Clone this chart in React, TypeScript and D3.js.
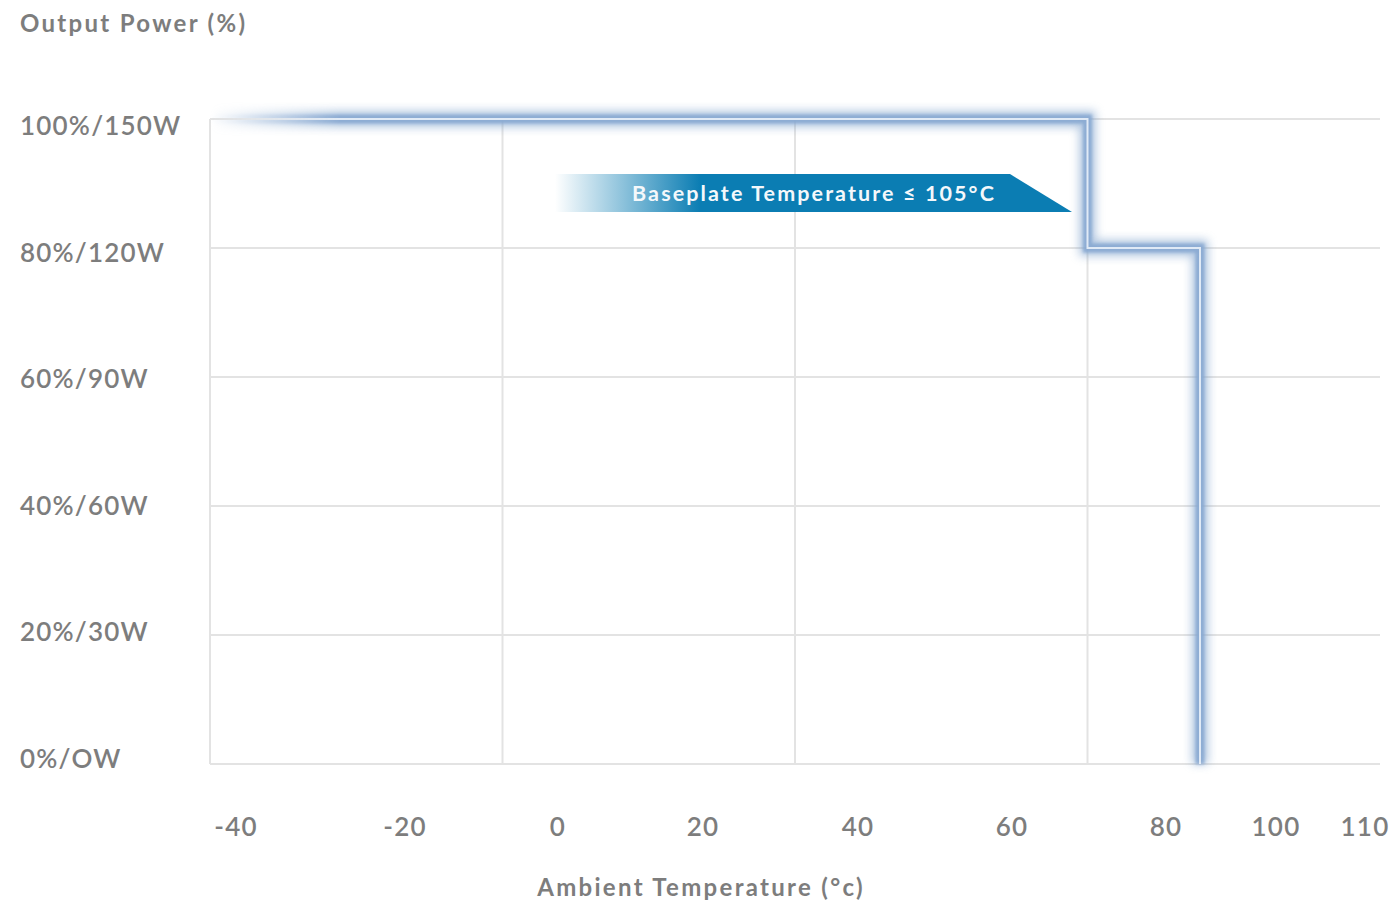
import React from "react";
import * as d3 from "d3";

const W = 1389;
const H = 903;

// Derating curve: ambient temperature (°C) vs output power (%)
const curveTemps = [-47, 70, 70, 85, 85];
const curvePower = [100, 100, 80, 80, 0];

const powerTicks = [100, 80, 60, 40, 20, 0];
const powerLabels = ["100%/150W", "80%/120W", "60%/90W", "40%/60W", "20%/30W", "0%/OW"];

const tempTicks = [-40, -20, 0, 20, 40, 60, 80, 100, 110];
const tempLabelPos = [236, 405, 558, 703, 858, 1012, 1166, 1276, 1365];

const gridColumns = [0, 1, 2, 3];

const FONT = "Lato, 'Open Sans', sans-serif";

export default function App() {
  const left = 210, right = 1380, top = 119, bottom = 764;
  const x = d3.scaleLinear().domain([-47, 109]).range([left, right]);
  const y = d3.scaleLinear().domain([0, 100]).range([bottom, top]);
  const yLabel = d3.scaleLinear().domain([0, 100]).range([758, 125]);
  const xLabel = d3.scaleLinear().domain(tempTicks).range(tempLabelPos);
  const col = d3.scaleLinear().domain([0, 4]).range([left, right]);

  const pts: [number, number][] = curveTemps.map((t, i) => [x(t), y(curvePower[i])]);
  const line = d3.line()(pts) || "";

  const banner = `M555,174 L1010,174 L1072,212 L555,212 Z`;

  return (
    <svg width={W} height={H} style={{ position: "absolute", left: 0, top: 0, background: "#fff" }}>
      <defs>
        <filter id="glow" x="-20%" y="-20%" width="140%" height="140%">
          <feGaussianBlur stdDeviation="5" />
        </filter>
        <filter id="soft" x="-20%" y="-20%" width="140%" height="140%">
          <feGaussianBlur stdDeviation="1.6" />
        </filter>
        <linearGradient id="fadeL" gradientUnits="userSpaceOnUse" x1={210} x2={340} y1={0} y2={0}>
          <stop offset="0" stopColor="#fff" stopOpacity="0" />
          <stop offset="1" stopColor="#fff" stopOpacity="1" />
        </linearGradient>
        <mask id="lineMask" maskUnits="userSpaceOnUse" x={0} y={0} width={W} height={H}>
          <rect x={0} y={0} width={W} height={H} fill="url(#fadeL)" />
        </mask>
        <linearGradient id="bannerGrad" gradientUnits="userSpaceOnUse" x1={555} x2={700} y1={0} y2={0}>
          <stop offset="0" stopColor="#0b7db3" stopOpacity="0" />
          <stop offset="1" stopColor="#0b7db3" stopOpacity="1" />
        </linearGradient>
      </defs>

      {/* grid */}
      <g stroke="#e3e3e3" strokeWidth={2} fill="none">
        {powerTicks.map((p) => (
          <line key={"h" + p} x1={left} x2={right} y1={y(p)} y2={y(p)} />
        ))}
        {gridColumns.map((c) => (
          <line key={"v" + c} x1={col(c)} x2={col(c)} y1={top} y2={bottom} />
        ))}
      </g>

      {/* y labels */}
      <g fill="#7d7d7d" fontFamily={FONT} fontSize={26} fontWeight={600} letterSpacing={1.2}>
        {powerTicks.map((p, i) => (
          <text key={p} x={20} y={yLabel(p)} dominantBaseline="central">
            {powerLabels[i]}
          </text>
        ))}
      </g>

      {/* x labels */}
      <g fill="#7d7d7d" fontFamily={FONT} fontSize={26} fontWeight={600} letterSpacing={1.2} textAnchor="middle">
        {tempTicks.map((t) => (
          <text key={t} x={xLabel(t)} y={826} dominantBaseline="central">
            {t}
          </text>
        ))}
      </g>

      <text x={20} y={22} fill="#7d7d7d" fontFamily={FONT} fontSize={24} fontWeight={700} letterSpacing={2.3} dominantBaseline="central">
        Output Power (%)
      </text>
      <text x={701} y={886} fill="#7d7d7d" fontFamily={FONT} fontSize={24} fontWeight={700} letterSpacing={2.3} textAnchor="middle" dominantBaseline="central">
        Ambient Temperature (°c)
      </text>

      {/* banner */}
      <path d={banner} fill="url(#bannerGrad)" />
      <text x={814} y={193} fill="#f4f8fb" fontFamily={FONT} fontSize={21.5} fontWeight={700} letterSpacing={2.1} textAnchor="middle" dominantBaseline="central">
        Baseplate Temperature ≤ 105°C
      </text>

      {/* glowing curve */}
      <g mask="url(#lineMask)" fill="none" strokeLinejoin="miter">
        <path d={line} stroke="#7097c6" strokeWidth={16} opacity={0.55} filter="url(#glow)" />
        <path d={line} stroke="#88a9d2" strokeWidth={9} opacity={0.9} filter="url(#soft)" />
        <path d={line} stroke="#eef5fb" strokeWidth={2} opacity={0.85} />
      </g>
    </svg>
  );
}
